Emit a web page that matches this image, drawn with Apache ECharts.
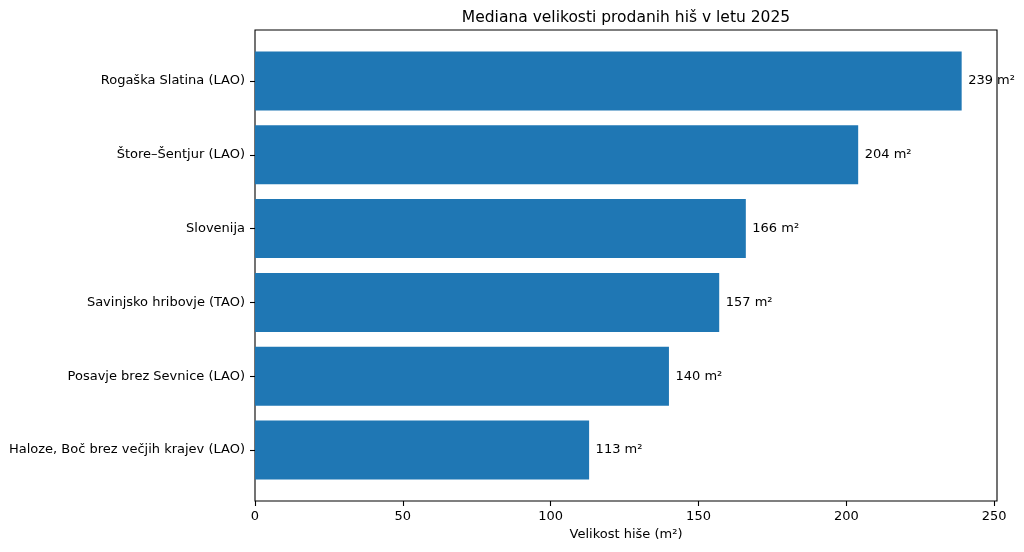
<!DOCTYPE html>
<html>
<head>
<meta charset="utf-8">
<script src="https://cdn.jsdelivr.net/npm/echarts@6/dist/echarts.min.js"></script>
<style>html,body{margin:0;padding:0;background:#fff;}#c{width:1024px;height:552px;}</style>
</head>
<body>
<div id="c"></div>
<script>
const categories = ['Haloze, Boč brez večjih krajev (LAO)', 'Posavje brez Sevnice (LAO)', 'Savinjsko hribovje (TAO)', 'Slovenija', 'Štore–Šentjur (LAO)', 'Rogaška Slatina (LAO)'];
const values = [113, 140, 157, 166, 204, 239];
const xTicks = [0, 50, 100, 150, 200, 250];
const titleText = 'Mediana velikosti prodanih hiš v letu 2025';
const xName = 'Velikost hiše (m²)';
const unit = ' m²';

const FONT = 'DejaVu Sans';
const FS = 13;
const xMax = 250.95;
const chart = echarts.init(document.getElementById('c'), null, {renderer: 'canvas'});
chart.setOption({
  animation: false,
  backgroundColor: '#fff',
  textStyle: {fontFamily: FONT},
  title: {
    text: titleText, left: 626, top: 10, padding: 0, textAlign: 'center', textVerticalAlign: 'top',
    textStyle: {fontFamily: FONT, fontSize: 15.5, fontWeight: 'normal', color: '#000'}
  },
  grid: [
    {left: 255, width: 742, top: 44, height: 443, show: false, containLabel: false, outerBoundsMode: 'none'},
    {left: 255, width: 742, top: 30, height: 471, show: true, borderColor: '#000', borderWidth: 1.1,
      backgroundColor: 'transparent', z: 1, containLabel: false, outerBoundsMode: 'none'}
  ],
  xAxis: [
    {gridIndex: 0, type: 'value', min: 0, max: xMax, show: false},
    {gridIndex: 1, type: 'value', min: 0, max: xMax, interval: 50,
      name: xName, nameLocation: 'middle', nameGap: 27,
      nameTextStyle: {fontFamily: FONT, fontSize: FS, color: '#000'},
      axisLine: {show: false},
      axisTick: {show: true, inside: false, length: 5, lineStyle: {color: '#000', width: 1.1},
        customValues: xTicks},
      axisLabel: {fontFamily: FONT, fontSize: FS, color: '#000', margin: 9, showMaxLabel: true,
        customValues: xTicks},
      splitLine: {show: false}}
  ],
  yAxis: [
    {gridIndex: 0, type: 'category', data: categories,
      axisLine: {show: false},
      axisTick: {show: true, alignWithLabel: true, inside: false, length: 5, lineStyle: {color: '#000', width: 1.1}},
      axisLabel: {fontFamily: FONT, fontSize: FS, color: '#000', margin: 10},
      splitLine: {show: false}},
    {gridIndex: 1, type: 'value', min: 0, max: 1, show: false}
  ],
  series: [{
    type: 'bar', xAxisIndex: 0, yAxisIndex: 0, data: values, barWidth: 59,
    itemStyle: {color: '#1f77b4'},
    label: {show: true, position: 'right', distance: 6.5, fontFamily: FONT, fontSize: FS, color: '#000',
      formatter: p => p.value + unit}
  }]
});
</script>
</body>
</html>
